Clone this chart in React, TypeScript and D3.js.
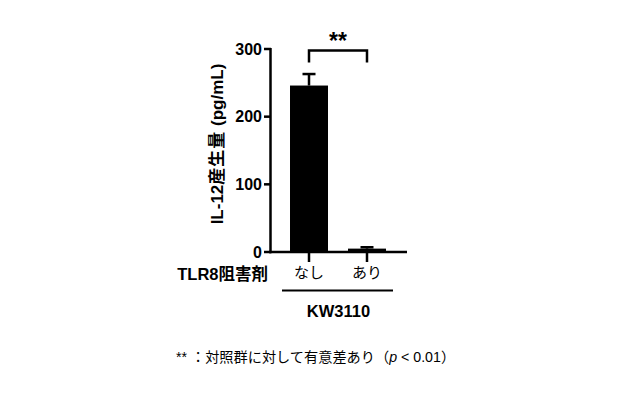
import React from "react";
import * as d3 from "d3";

const categories = ["なし", "あり"];
const means = [246, 5];
const errors = [17, 2];
const yTicks = [0, 100, 200, 300];
const yLabelParts = ["IL-12", "産生量", " (pg/mL)"];
const groupLabelParts = ["TLR8", "阻害剤"];
const bracketLabel = "KW3110";
const sigLabel = "**";

const FONT = "'Liberation Sans', Arial, sans-serif";
const JFONT = "'Noto Sans CJK JP', 'Noto Sans CJK SC', sans-serif";

export default function App() {
  const W = 624, H = 400;
  const x = d3.scaleBand<string>().domain(categories).range([270, 406]).paddingInner(0.345).paddingOuter(0.345);
  const y = d3.scaleLinear().domain([0, 300]).range([252, 49]);
  const bw = x.bandwidth();
  const cx = (c: string) => (x(c) as number) + bw / 2;
  const sigY = 50.5;
  return (
    <div style={{ margin: -8 }}>
      <svg width={W} height={H} style={{ display: "block", background: "#fff" }}>
        {categories.map((c, i) => (
          <g key={c}>
            <line x1={cx(c)} x2={cx(c)} y1={y(means[i])} y2={y(means[i] + errors[i])} stroke="#000" strokeWidth={2.5} />
            <line x1={cx(c) - 6.5} x2={cx(c) + 6.5} y1={y(means[i] + errors[i])} y2={y(means[i] + errors[i])} stroke="#000" strokeWidth={2.5} />
            <rect x={x(c)} y={y(means[i])} width={bw} height={y(0) - y(means[i])} fill="#000" />
          </g>
        ))}
        <line x1={270.5} x2={270.5} y1={y(300) - 1} y2={y(0) + 1.25} stroke="#000" strokeWidth={2.5} />
        {yTicks.map((t) => (
          <g key={t}>
            <line x1={264} x2={271} y1={y(t)} y2={y(t)} stroke="#000" strokeWidth={2.5} />
            <text x={262} y={y(t)} dy="0.36em" textAnchor="end" fontFamily={FONT} fontWeight="bold" fontSize={16}>{t}</text>
          </g>
        ))}
        <line x1={269.25} x2={407} y1={y(0)} y2={y(0)} stroke="#000" strokeWidth={2.5} />
        {categories.map((c) => (
          <g key={c}>
            <line x1={cx(c)} x2={cx(c)} y1={y(0)} y2={y(0) + 10} stroke="#000" strokeWidth={2.5} />
            <text x={cx(c)} y={278} textAnchor="middle" fontFamily={JFONT} fontSize={15}>{c}</text>
          </g>
        ))}
        <text x={268} y={280} textAnchor="end" fontFamily={FONT} fontWeight="bold" fontSize={16.5}>
          {groupLabelParts[0]}<tspan fontFamily={JFONT}>{groupLabelParts[1]}</tspan>
        </text>
        <line x1={282} x2={393} y1={290.5} y2={290.5} stroke="#000" strokeWidth={2} />
        <text x={338.5} y={317} textAnchor="middle" fontFamily={FONT} fontWeight="bold" fontSize={16.5}>{bracketLabel}</text>
        <path d={`M${cx(categories[0])},${sigY + 12} V${sigY} H${cx(categories[1])} V${sigY + 12}`} fill="none" stroke="#000" strokeWidth={2.5} />
        <text x={(cx(categories[0]) + cx(categories[1])) / 2} y={49} textAnchor="middle" fontFamily={FONT} fontWeight="bold" fontSize={23}>{sigLabel}</text>
        <g opacity={0.999}>
          <text transform={`translate(223,144) rotate(-90)`} textAnchor="middle" fontFamily={FONT} fontWeight="bold" fontSize={17} fill="#000">
            {yLabelParts[0]}<tspan fontFamily={JFONT} letterSpacing={1}>{yLabelParts[1]}</tspan>{yLabelParts[2]}
          </text>
        </g>
        <text x={176} y={362} fontFamily={JFONT} fontSize={14.2}>
          <tspan fontFamily={FONT}>** </tspan>：対照群に対して有意差あり（<tspan fontStyle="italic" fontFamily={FONT}>p</tspan><tspan fontFamily={FONT}> &lt; 0.01</tspan>）
        </text>
      </svg>
    </div>
  );
}
